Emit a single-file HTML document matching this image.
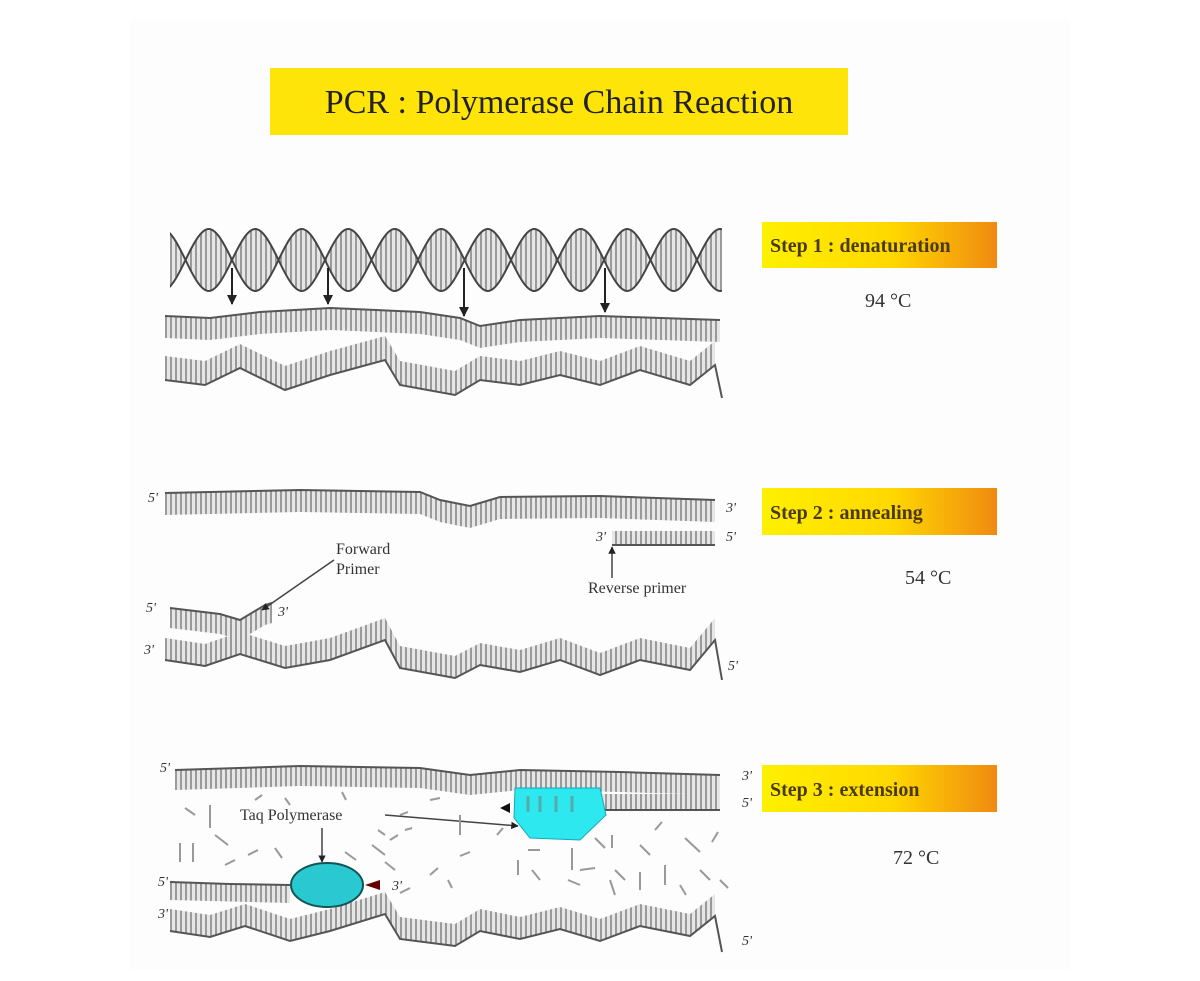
<!DOCTYPE html>
<html><head><meta charset="utf-8"><style>
html,body{margin:0;padding:0;background:#fff;}
svg{display:block;}
text{font-family:"Liberation Serif",serif;}
</style></head><body>
<svg width="1200" height="981" viewBox="0 0 1200 981" xmlns="http://www.w3.org/2000/svg">
<defs>
<linearGradient id="g" x1="0" x2="1" y1="0" y2="0">
<stop offset="0" stop-color="#fff000"/><stop offset="0.55" stop-color="#ffd800"/><stop offset="1" stop-color="#f08a10"/>
</linearGradient>
<pattern id="st" width="5" height="10" patternUnits="userSpaceOnUse">
<rect x="0" y="0" width="5" height="10" fill="#e6e6e6"/>
<rect x="0" y="0" width="2" height="10" fill="#9a9a9a"/>
</pattern>
<marker id="ah" viewBox="0 0 10 10" refX="9" refY="5" markerWidth="5" markerHeight="5" orient="auto"><path d="M0,0 L10,5 L0,10 z" fill="#222"/></marker>
<clipPath id="hc"><rect x="170" y="200" width="552" height="120"/></clipPath>
</defs>
<rect x="130" y="20" width="940" height="950" fill="#fdfdfd"/>
<!-- Title -->
<rect x="270" y="68" width="578" height="67" fill="#ffe40a"/>
<text x="559" y="113" font-size="34" text-anchor="middle" fill="#222">PCR : Polymerase Chain Reaction</text>

<!-- Step boxes -->
<g font-size="20" font-weight="bold" fill="#4a3a10">
<rect x="762" y="222" width="235" height="46" fill="url(#g)"/>
<text x="770" y="252">Step 1 : denaturation</text>
<rect x="762" y="488" width="235" height="47" fill="url(#g)"/>
<text x="770" y="519">Step 2 : annealing</text>
<rect x="762" y="765" width="235" height="47" fill="url(#g)"/>
<text x="770" y="796">Step 3 : extension</text>
</g>
<g font-size="20" fill="#333">
<text x="865" y="307">94 °C</text>
<text x="905" y="584">54 °C</text>
<text x="893" y="864">72 °C</text>
</g>

<!-- Helix -->
<g clip-path="url(#hc)">
<path fill="url(#st)" d="M139,260 c7.75,-16.2 15.5,-31 23.25,-31 s15.5,14.8 23.25,31 s15.5,31 23.25,31 s15.5,-14.8 23.25,-31 s15.5,-31 23.25,-31 s15.5,14.8 23.25,31 s15.5,31 23.25,31 s15.5,-14.8 23.25,-31 s15.5,-31 23.25,-31 s15.5,14.8 23.25,31 s15.5,31 23.25,31 s15.5,-14.8 23.25,-31 s15.5,-31 23.25,-31 s15.5,14.8 23.25,31 s15.5,31 23.25,31 s15.5,-14.8 23.25,-31 s15.5,-31 23.25,-31 s15.5,14.8 23.25,31 s15.5,31 23.25,31 s15.5,-14.8 23.25,-31 s15.5,-31 23.25,-31 s15.5,14.8 23.25,31 s15.5,31 23.25,31 s15.5,-14.8 23.25,-31 s15.5,-31 23.25,-31 s15.5,14.8 23.25,31 L744,320 L139,320 Z M139,260 c7.75,16.2 15.5,31 23.25,31 s15.5,-14.8 23.25,-31 s15.5,-31 23.25,-31 s15.5,14.8 23.25,31 s15.5,31 23.25,31 s15.5,-14.8 23.25,-31 s15.5,-31 23.25,-31 s15.5,14.8 23.25,31 s15.5,31 23.25,31 s15.5,-14.8 23.25,-31 s15.5,-31 23.25,-31 s15.5,14.8 23.25,31 s15.5,31 23.25,31 s15.5,-14.8 23.25,-31 s15.5,-31 23.25,-31 s15.5,14.8 23.25,31 s15.5,31 23.25,31 s15.5,-14.8 23.25,-31 s15.5,-31 23.25,-31 s15.5,14.8 23.25,31 s15.5,31 23.25,31 s15.5,-14.8 23.25,-31 s15.5,-31 23.25,-31 s15.5,14.8 23.25,31 s15.5,31 23.25,31 s15.5,-14.8 23.25,-31 L744,320 L139,320 Z" fill-rule="evenodd"/>
<g fill="none" stroke="#444" stroke-width="2">
<path d="M139,260 c7.75,-16.2 15.5,-31 23.25,-31 s15.5,14.8 23.25,31 s15.5,31 23.25,31 s15.5,-14.8 23.25,-31 s15.5,-31 23.25,-31 s15.5,14.8 23.25,31 s15.5,31 23.25,31 s15.5,-14.8 23.25,-31 s15.5,-31 23.25,-31 s15.5,14.8 23.25,31 s15.5,31 23.25,31 s15.5,-14.8 23.25,-31 s15.5,-31 23.25,-31 s15.5,14.8 23.25,31 s15.5,31 23.25,31 s15.5,-14.8 23.25,-31 s15.5,-31 23.25,-31 s15.5,14.8 23.25,31 s15.5,31 23.25,31 s15.5,-14.8 23.25,-31 s15.5,-31 23.25,-31 s15.5,14.8 23.25,31 s15.5,31 23.25,31 s15.5,-14.8 23.25,-31 s15.5,-31 23.25,-31 s15.5,14.8 23.25,31"/>
<path d="M139,260 c7.75,16.2 15.5,31 23.25,31 s15.5,-14.8 23.25,-31 s15.5,-31 23.25,-31 s15.5,14.8 23.25,31 s15.5,31 23.25,31 s15.5,-14.8 23.25,-31 s15.5,-31 23.25,-31 s15.5,14.8 23.25,31 s15.5,31 23.25,31 s15.5,-14.8 23.25,-31 s15.5,-31 23.25,-31 s15.5,14.8 23.25,31 s15.5,31 23.25,31 s15.5,-14.8 23.25,-31 s15.5,-31 23.25,-31 s15.5,14.8 23.25,31 s15.5,31 23.25,31 s15.5,-14.8 23.25,-31 s15.5,-31 23.25,-31 s15.5,14.8 23.25,31 s15.5,31 23.25,31 s15.5,-14.8 23.25,-31 s15.5,-31 23.25,-31 s15.5,14.8 23.25,31 s15.5,31 23.25,31 s15.5,-14.8 23.25,-31"/>
</g>
</g>
<rect x="170" y="292" width="560" height="14" fill="#fdfdfd"/>
<g stroke="#222" stroke-width="2" marker-end="url(#ah)">
<line x1="232" y1="268" x2="232" y2="304"/>
<line x1="328" y1="268" x2="328" y2="304"/>
<line x1="464" y1="268" x2="464" y2="316"/>
<line x1="605" y1="268" x2="605" y2="312"/>
</g>

<!-- Strands: vertical tick fills -->
<g fill="url(#st)">
<path d="M165,316 L210,318 L260,312 L330,308 L420,312 L460,318 L480,326 L520,320 L600,316 L720,320 L720,342 L600,338 L520,342 L480,348 L460,340 L420,334 L330,330 L260,334 L210,340 L165,338 Z"/>
<path d="M165,380 L205,385 L240,368 L285,390 L330,375 L385,360 L400,385 L455,395 L480,380 L520,385 L560,375 L600,385 L640,370 L690,385 L715,365 L715,341 L690,361 L640,346 L600,361 L560,351 L520,361 L480,356 L455,371 L400,361 L385,336 L330,351 L285,366 L240,344 L205,361 L165,356 Z"/>
<path d="M165,493 L300,490 L420,492 L440,500 L470,506 L500,497 L600,496 L715,500 L715,522 L600,518 L500,519 L470,528 L440,522 L420,514 L300,512 L165,515 Z"/>
<rect x="612" y="531" width="103" height="14"/>
<path d="M170,608 L220,614 L240,620 L265,605 L272,603 L272,623 L265,625 L240,640 L220,634 L170,628 Z"/>
<path d="M165,660 L205,666 L240,654 L285,668 L330,660 L385,640 L400,668 L455,678 L480,665 L520,672 L560,660 L600,675 L640,660 L690,670 L715,640 L715,618 L690,648 L640,638 L600,653 L560,638 L520,650 L480,643 L455,656 L400,646 L385,618 L330,638 L285,646 L240,632 L205,644 L165,638 Z"/>
<path d="M175,770 L300,766 L420,768 L470,775 L520,770 L620,772 L720,775 L720,795 L620,792 L520,790 L470,795 L420,788 L300,786 L175,790 Z"/>
<rect x="515" y="794" width="205" height="16"/>
<path d="M170,882 L290,885 L290,903 L170,900 Z"/>
<path d="M170,931 L210,937 L245,926 L290,941 L330,931 L385,914 L400,939 L455,946 L480,931 L520,939 L560,929 L600,941 L640,926 L690,936 L715,916 L715,894 L690,914 L640,904 L600,919 L560,907 L520,917 L480,909 L455,924 L400,917 L385,892 L330,909 L290,919 L245,904 L210,915 L170,909 Z"/>
</g>
<g fill="none" stroke="#555" stroke-width="2">
<path d="M165,316 L210,318 L260,312 L330,308 L420,312 L460,318 L480,326 L520,320 L600,316 L720,320"/>
<path d="M165,380 L205,385 L240,368 L285,390 L330,375 L385,360 L400,385 L455,395 L480,380 L520,385 L560,375 L600,385 L640,370 L690,385 L715,365 L722,398"/>
<path d="M165,493 L300,490 L420,492 L440,500 L470,506 L500,497 L600,496 L715,500"/>
<path d="M612,545 L715,545"/>
<path d="M170,608 L220,614 L240,620 L265,605 L272,603"/>
<path d="M165,660 L205,666 L240,654 L285,668 L330,660 L385,640 L400,668 L455,678 L480,665 L520,672 L560,660 L600,675 L640,660 L690,670 L715,640 L722,680"/>
<path d="M175,770 L300,766 L420,768 L470,775 L520,770 L620,772 L720,775"/>
<path d="M515,810 L720,810"/>
<path d="M170,882 L230,884 L290,885"/>
<path d="M170,931 L210,937 L245,926 L290,941 L330,931 L385,914 L400,939 L455,946 L480,931 L520,939 L560,929 L600,941 L640,926 L690,936 L715,916 L722,952"/>
</g>

<!-- 5'/3' labels -->
<g font-size="14" font-style="italic" fill="#333">
<text x="148" y="502">5'</text><text x="726" y="512">3'</text>
<text x="596" y="541">3'</text><text x="726" y="541">5'</text>
<text x="146" y="612">5'</text><text x="278" y="616">3'</text>
<text x="144" y="654">3'</text><text x="728" y="670">5'</text>
<text x="160" y="772">5'</text><text x="742" y="780">3'</text>
<text x="742" y="807">5'</text>
<text x="158" y="886">5'</text><text x="392" y="890">3'</text>
<text x="158" y="918">3'</text><text x="742" y="945">5'</text>
</g>

<g font-size="16" fill="#333">
<text x="336" y="554">Forward</text><text x="336" y="574">Primer</text>
<text x="588" y="593">Reverse primer</text>
<text x="240" y="820">Taq Polymerase</text>
</g>
<g stroke="#444" stroke-width="1.5" marker-end="url(#ah)">
<line x1="334" y1="560" x2="262" y2="610"/>
<line x1="612" y1="578" x2="612" y2="547"/>
<line x1="385" y1="815" x2="518" y2="826"/>
<line x1="322" y1="828" x2="322" y2="862"/>
</g>

<!-- Taq -->
<polygon points="515,788 600,788 606,815 580,840 530,838 514,818" fill="#2de8ef" stroke="#1ab" stroke-width="1"/>
<g stroke="#5aa" stroke-width="3"><line x1="528" y1="796" x2="528" y2="812"/><line x1="540" y1="796" x2="540" y2="812"/><line x1="556" y1="796" x2="556" y2="812"/><line x1="572" y1="796" x2="572" y2="812"/></g>
<ellipse cx="327" cy="885" rx="36" ry="22" fill="#2ac8d0" stroke="#155" stroke-width="2"/>
<path d="M365,885 L380,880 L380,890 z" fill="#600"/>
<path d="M500,808 L510,803 L510,813 z" fill="#111"/>

<g stroke="#999" stroke-width="2">
<line x1="185" y1="808" x2="195" y2="815"/><line x1="210" y1="805" x2="210" y2="828"/>
<line x1="180" y1="843" x2="180" y2="862"/><line x1="193" y1="843" x2="193" y2="862"/>
<line x1="215" y1="835" x2="228" y2="845"/><line x1="225" y1="865" x2="235" y2="860"/>
<line x1="248" y1="855" x2="258" y2="850"/><line x1="255" y1="800" x2="262" y2="795"/>
<line x1="285" y1="798" x2="290" y2="805"/><line x1="275" y1="848" x2="282" y2="858"/>
<line x1="345" y1="852" x2="356" y2="860"/><line x1="372" y1="845" x2="385" y2="855"/>
<line x1="342" y1="792" x2="346" y2="800"/><line x1="390" y1="840" x2="398" y2="835"/>
<line x1="385" y1="862" x2="395" y2="870"/><line x1="430" y1="800" x2="440" y2="798"/>
<line x1="400" y1="815" x2="408" y2="812"/><line x1="378" y1="830" x2="385" y2="835"/>
<line x1="460" y1="815" x2="460" y2="835"/><line x1="430" y1="875" x2="438" y2="868"/>
<line x1="400" y1="893" x2="410" y2="888"/><line x1="405" y1="830" x2="412" y2="828"/>
<line x1="460" y1="856" x2="470" y2="852"/><line x1="448" y1="880" x2="452" y2="888"/>
<line x1="518" y1="860" x2="518" y2="875"/><line x1="528" y1="850" x2="540" y2="850"/>
<line x1="572" y1="848" x2="572" y2="870"/><line x1="595" y1="838" x2="605" y2="848"/>
<line x1="612" y1="835" x2="612" y2="848"/><line x1="615" y1="870" x2="625" y2="880"/>
<line x1="640" y1="845" x2="650" y2="855"/><line x1="655" y1="830" x2="662" y2="822"/>
<line x1="685" y1="838" x2="700" y2="852"/><line x1="712" y1="842" x2="718" y2="832"/>
<line x1="580" y1="870" x2="595" y2="868"/><line x1="610" y1="880" x2="615" y2="895"/>
<line x1="640" y1="872" x2="640" y2="890"/><line x1="665" y1="865" x2="665" y2="885"/>
<line x1="700" y1="870" x2="710" y2="880"/><line x1="720" y1="880" x2="728" y2="888"/>
<line x1="532" y1="870" x2="540" y2="880"/><line x1="568" y1="880" x2="580" y2="885"/>
<line x1="497" y1="835" x2="503" y2="828"/><line x1="680" y1="885" x2="686" y2="895"/>
</g>
</svg>
</body></html>
